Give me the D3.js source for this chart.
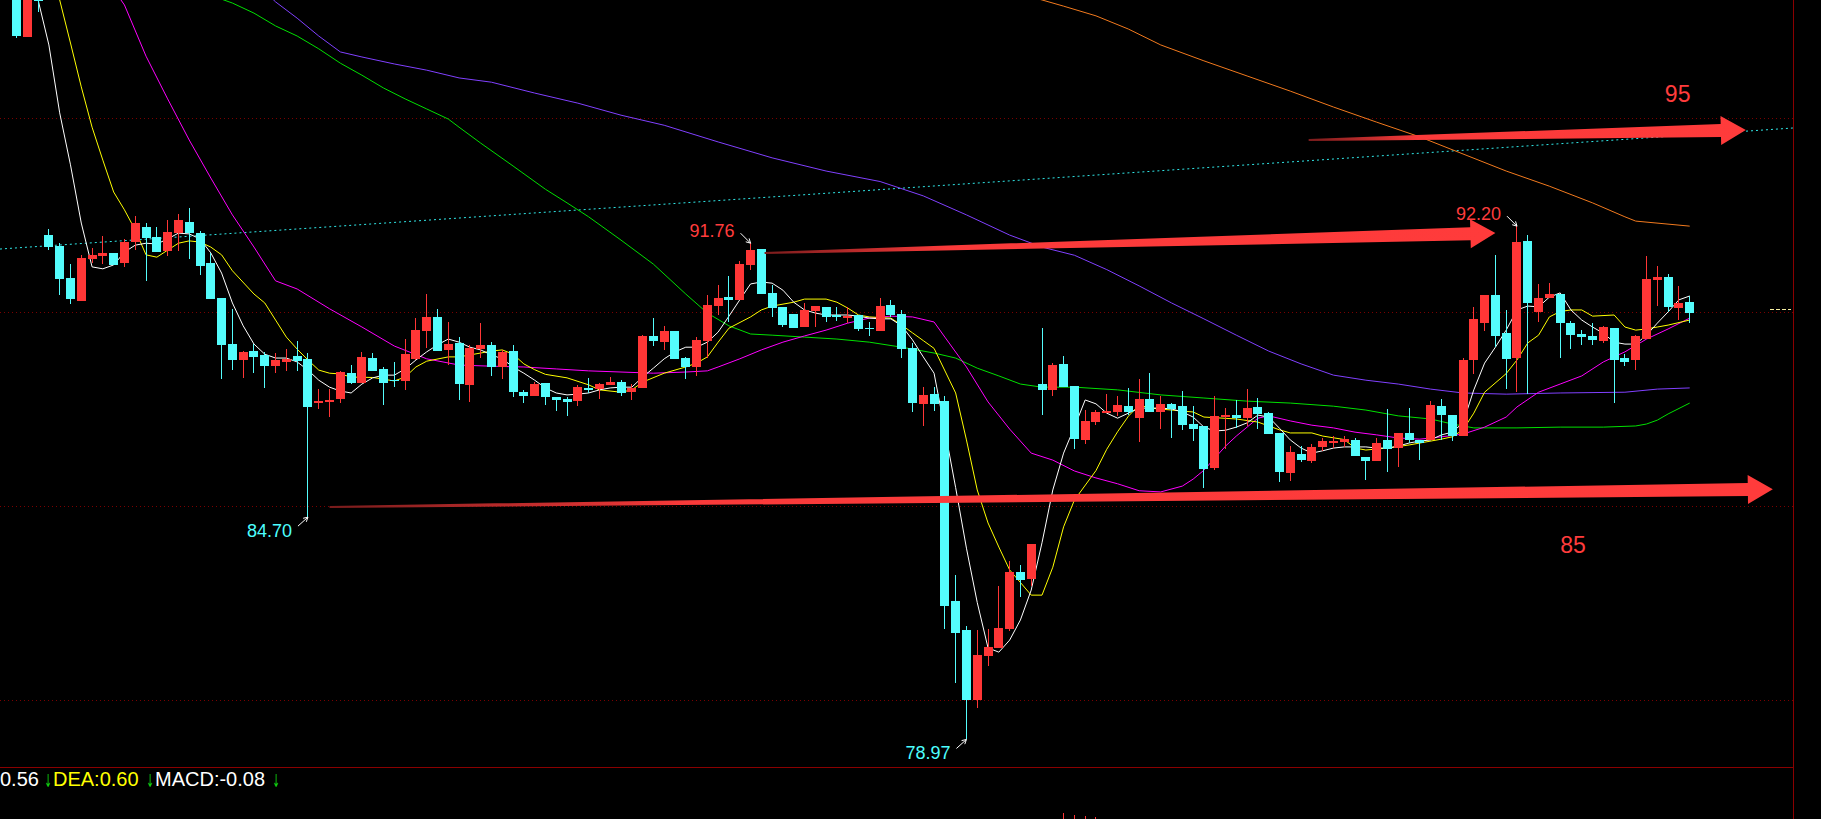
<!DOCTYPE html>
<meta charset="utf-8">
<head>
    <title>K-line</title>
    <script src="https://d3js.org/d3.v7.min.js"></script>
    <style>
        body { margin: 0; background: #000; overflow: hidden; }
        text { font-family: "Liberation Sans", Arial, sans-serif; }
    </style>
</head>
<body>
<div id="chart"></div>
<script>

// candles, [open, high, low, close], one per trading day
var candles = [
    [99.32,99.57,97.06,97.10],[97.08,98.93,97.08,98.80],[98.30,98.40,97.73,98.00],[91.97,92.13,91.58,91.67],
    [91.70,91.76,90.43,90.85],[90.86,91.22,90.19,90.33],[90.28,91.46,90.28,91.38],[91.36,91.63,91.24,91.46],
    [91.44,91.95,91.22,91.51],[91.51,91.51,91.20,91.20],[91.25,91.87,91.15,91.79],[91.79,92.46,91.58,92.28],
    [92.18,92.28,90.79,91.89],[91.92,92.18,91.53,91.53],[91.56,92.36,91.44,92.05],[92.02,92.51,91.56,92.36],
    [92.31,92.67,91.35,92.02],[92.02,92.07,90.94,91.17],[91.25,91.51,90.32,90.32],[90.35,90.35,88.26,89.14],
    [89.16,90.06,88.49,88.75],[88.75,88.98,88.29,88.96],[88.98,89.16,88.42,88.83],[88.88,88.96,88.03,88.60],
    [88.60,88.93,88.42,88.75],[88.70,89.03,88.47,88.78],[88.85,89.25,88.47,88.72],[88.78,88.93,84.70,87.55],
    [87.64,88.00,87.49,87.69],[87.67,88.00,87.28,87.72],[87.75,88.47,87.65,88.44],[88.41,88.62,88.13,88.16],
    [88.16,88.96,88.16,88.83],[88.80,88.93,88.47,88.47],[88.52,88.57,87.59,88.16],[88.24,88.71,88.06,88.21],
    [88.22,89.29,87.98,88.91],[88.78,89.84,88.75,89.52],[89.50,90.45,89.07,89.87],[89.87,90.07,88.99,88.99],
    [89.01,89.73,88.63,89.16],[89.18,89.35,87.72,88.14],[88.11,89.14,87.68,89.05],[89.03,89.70,88.79,89.14],
    [89.14,89.22,88.35,88.58],[88.58,89.01,88.26,88.96],[88.98,89.14,87.80,87.93],[87.92,87.98,87.63,87.83],
    [87.83,88.18,87.83,88.13],[88.16,88.16,87.59,87.80],[87.80,87.80,87.44,87.72],[87.74,87.79,87.31,87.68],
    [87.69,88.10,87.57,88.05],[88.04,88.28,87.91,87.98],[88.00,88.17,87.74,88.13],[88.11,88.30,88.11,88.19],
    [88.18,88.23,87.83,87.91],[87.93,88.13,87.72,88.04],[88.04,89.39,88.04,89.37],[89.37,89.82,89.12,89.25],
    [89.22,89.63,89.01,89.50],[89.50,89.50,88.78,88.78],[88.80,88.84,88.26,88.58],[88.58,89.33,88.35,89.27],
    [89.25,90.42,88.79,90.17],[90.14,90.68,89.91,90.35],[90.37,90.92,89.74,90.30],[90.30,91.30,90.30,91.22],
    [91.20,91.76,91.07,91.58],[91.61,91.61,90.45,90.45],[90.48,90.68,89.87,90.09],[90.12,90.12,89.60,89.65],
    [89.94,89.94,89.58,89.58],[89.61,90.21,89.61,90.04],[90.02,90.13,89.61,90.13],[90.12,90.12,89.73,89.87],
    [89.90,90.12,89.76,89.87],[89.83,90.12,89.71,89.88],[89.91,89.91,89.50,89.56],[89.58,89.74,89.38,89.54],
    [89.50,90.34,89.50,90.14],[90.16,90.30,89.87,89.91],[89.93,90.04,88.79,89.04],[89.06,89.18,87.42,87.63],
    [87.62,88.06,87.06,87.85],[87.87,88.05,87.44,87.62],[87.69,87.82,81.82,82.41],[82.54,83.21,80.43,81.72],
    [81.79,81.89,78.97,79.99],[79.99,81.79,79.79,81.15],[81.13,81.82,80.87,81.35],[81.33,82.93,81.33,81.84],
    [81.82,83.58,81.77,83.29],[83.29,83.47,82.65,83.08],[83.10,84.01,82.93,84.01],[88.13,89.57,87.33,87.98],
    [87.98,88.67,87.82,88.62],[88.65,88.85,88.05,88.05],[88.08,88.08,86.46,86.71],[86.69,87.46,86.58,87.18],
    [87.15,87.46,87.07,87.41],[87.38,87.87,87.38,87.44],[87.41,87.82,87.31,87.59],[87.56,88.03,87.33,87.41],
    [87.25,88.26,86.64,87.74],[87.74,88.41,87.41,87.41],[87.41,87.82,86.97,87.62],[87.62,87.64,86.74,87.49],
    [87.56,87.95,86.95,87.08],[87.10,87.56,86.66,86.97],[87.05,87.05,85.45,85.94],[85.97,87.82,85.91,87.31],
    [87.28,87.51,86.46,87.33],[87.33,87.72,87.00,87.25],[87.25,88.00,87.05,87.51],[87.54,87.77,86.97,87.36],
    [87.38,87.41,86.84,86.84],[86.87,86.87,85.61,85.86],[85.84,86.53,85.63,86.38],[86.33,86.53,86.12,86.17],
    [86.15,86.58,86.10,86.51],[86.51,86.74,86.40,86.66],[86.61,86.79,86.48,86.66],[86.64,86.79,86.51,86.71],
    [86.69,86.74,86.28,86.28],[86.26,86.26,85.67,86.15],[86.15,86.74,86.15,86.61],[86.69,87.49,85.87,86.46],
    [86.47,86.87,86.00,86.87],[86.87,87.51,86.60,86.69],[86.69,86.69,86.16,86.61],[86.69,87.69,86.69,87.59],
    [87.56,87.74,86.69,87.33],[87.33,87.33,86.67,86.79],[86.79,88.80,86.79,88.75],[88.75,90.12,88.40,89.81],
    [89.70,90.43,89.50,90.43],[90.43,91.46,89.09,89.37],[89.45,90.04,88.00,88.78],[88.80,92.20,87.93,91.79],
    [91.82,91.97,87.87,90.22],[89.99,90.71,89.73,90.35],[90.35,90.73,90.35,90.45],[90.45,90.45,88.81,89.70],
    [89.70,89.76,89.04,89.39],[89.42,89.52,89.14,89.34],[89.37,89.70,89.14,89.27],[89.24,89.63,89.19,89.60],
    [89.58,89.58,87.65,88.75],[88.80,88.91,88.60,88.70],[88.75,89.40,88.49,89.37],[89.30,91.43,89.30,90.84],
    [90.81,91.17,90.14,90.89],[90.89,90.97,89.99,90.12],[90.09,90.66,89.78,90.22],[90.24,90.40,89.71,89.96]
];

// moving averages, [day, value]
var ma5 = [[1,99.0],[2,98.03],[3,96.87],[4,95.12],[5,93.78],[6,92.28],[7,91.15],[8,91.10],[9,91.20],[10,91.53],
    [11,91.71],[12,91.76],[13,91.74],[14,91.87],[15,92.02],[16,92.00],[17,91.87],[18,91.51],[19,90.99],[20,90.22],
    [21,89.63],[22,89.16],[23,88.90],[24,88.80],[25,88.80],[26,88.70],[27,88.49],[28,88.23],[29,88.05],[30,87.95],
    [31,87.90],[32,88.13],[33,88.29],[34,88.36],[35,88.36],[36,88.52],[37,88.75],[38,88.96],[39,89.14],[40,89.29],
    [41,89.21],[42,89.08],[43,89.01],[44,88.88],[45,88.78],[46,88.57],[47,88.41],[48,88.23],[49,88.03],[50,87.90],
    [51,87.85],[52,87.87],[53,87.90],[54,87.98],[55,88.03],[56,88.05],[57,88.05],[58,88.31],[59,88.54],[60,88.78],
    [61,88.96],[62,89.08],[63,89.08],[64,89.21],[65,89.47],[66,89.88],[67,90.30],[68,90.71],[69,90.76],[70,90.73],
    [71,90.55],[72,90.24],[73,90.04],[74,89.96],[75,89.91],[76,89.91],[77,89.91],[78,89.88],[79,89.83],[80,89.81],
    [81,89.81],[82,89.63],[83,89.27],[84,88.83],[85,88.41],[86,86.95],[87,85.46],[88,83.90],[89,82.50],[90,81.33],
    [91,81.22],[92,81.53],[93,82.05],[94,82.82],[95,84.04],[96,85.40],[97,86.35],[98,87.02],[99,87.72],[100,87.62],
    [101,87.38],[102,87.25],[103,87.38],[104,87.51],[105,87.51],[106,87.51],[107,87.49],[108,87.41],[109,87.28],[110,87.02],
    [111,86.92],[112,86.94],[113,87.02],[114,87.13],[115,87.33],[116,87.28],[117,86.99],[118,86.69],[119,86.48],[120,86.35],
    [121,86.41],[122,86.48],[123,86.51],[124,86.51],[125,86.51],[126,86.48],[127,86.48],[128,86.53],[129,86.61],[130,86.66],
    [131,86.69],[132,86.82],[133,86.89],[134,87.13],[135,87.98],[136,88.67],[137,89.08],[138,89.52],[139,90.04],[140,90.14],
    [141,90.12],[142,90.37],[143,90.48],[144,90.04],[145,89.78],[146,89.60],[147,89.44],[148,89.21],[149,89.16],[150,89.16],
    [151,89.39],[152,89.70],[153,89.99],[154,90.30],[155,90.40]];
var ma10 = [[3,98.6],[4,98.03],[5,96.92],[6,95.79],[7,94.75],[8,93.90],[9,93.08],[10,92.62],[11,92.10],[12,91.46],
    [13,91.40],[14,91.58],[15,91.76],[16,91.82],[17,91.79],[18,91.66],[19,91.46],[20,91.05],[22,90.45],[23,90.22],
    [24,89.78],[25,89.34],[26,89.03],[27,88.75],[28,88.49],[29,88.41],[30,88.39],[31,88.31],[33,88.30],[35,88.21],
    [36,88.31],[37,88.57],[38,88.72],[40,88.83],[41,88.83],[43,88.93],[44,88.98],[45,89.01],[46,88.90],[47,88.65],
    [48,88.50],[49,88.38],[51,88.29],[53,88.11],[54,87.98],[56,87.92],[57,87.98],[58,88.18],[60,88.41],[62,88.57],
    [63,88.67],[64,88.83],[65,89.21],[66,89.57],[68,89.86],[69,90.04],[70,90.14],[72,90.24],[73,90.32],[75,90.32],
    [76,90.24],[77,90.09],[78,89.91],[79,89.86],[81,89.83],[82,89.65],[83,89.45],[84,89.25],[85,89.05],[87,87.90],
    [88,86.69],[89,85.40],[90,84.55],[91,83.93],[92,83.34],[94,82.69],[95,82.69],[96,83.41],[97,84.45],[98,85.14],
    [100,85.90],[101,86.45],[102,86.90],[103,87.30],[104,87.59],[105,87.51],[107,87.46],[109,87.41],[110,87.28],[113,87.23],
    [115,87.15],[117,86.95],[118,86.87],[120,86.87],[121,86.79],[123,86.70],[124,86.48],[125,86.43],[127,86.48],[129,86.56],
    [130,86.61],[132,86.71],[133,86.77],[134,86.95],[135,87.38],[136,87.92],[138,88.40],[139,88.75],[140,89.19],[141,89.39],
    [142,89.86],[143,90.00],[144,90.04],[145,90.04],[146,89.88],[148,89.91],[149,89.60],[150,89.52],[151,89.55],[152,89.60],
    [153,89.65],[155,89.78]];
var ma20 = [[9,98.3],[10,97.90],[12,96.58],[14,95.48],[16,94.42],[18,93.44],[20,92.49],[22,91.66],[24,90.79],[26,90.58],
    [29,90.07],[32,89.60],[35,89.11],[38,88.78],[41,88.62],[44,88.59],[47,88.57],[50,88.52],[53,88.47],[56,88.44],
    [59,88.41],[62,88.44],[64,88.47],[65,88.57],[67,88.78],[69,89.01],[71,89.21],[73,89.37],[75,89.52],[77,89.70],
    [79,89.83],[81,89.88],[83,89.86],[85,89.73],[86,89.34],[88,88.57],[90,87.67],[92,86.97],[94,86.35],[96,86.17],
    [98,85.89],[100,85.71],[102,85.56],[104,85.38],[106,85.35],[108,85.50],[109,85.68],[110,85.91],[111,86.22],[112,86.53],
    [113,86.79],[114,87.02],[115,87.25],[116,87.31],[118,87.18],[120,87.07],[122,87.00],[124,86.89],[126,86.82],[128,86.74],
    [130,86.71],[132,86.77],[134,86.84],[136,87.02],[138,87.28],[139,87.54],[141,87.92],[143,88.13],[145,88.34],[147,88.70],
    [149,88.96],[151,89.29],[153,89.55],[155,89.83]];
var ma60 = [[19,98.05],[20,97.95],[22,97.69],[24,97.36],[26,97.10],[28,96.77],[30,96.40],[32,96.09],[34,95.76],[36,95.48],
    [38,95.22],[40,94.96],[41,94.75],[43,94.34],[46,93.75],[49,93.15],[51,92.80],[53,92.44],[56,91.84],[59,91.22],
    [62,90.45],[64,89.96],[66,89.63],[68,89.42],[70,89.39],[73,89.34],[76,89.29],[79,89.21],[82,89.08],[85,88.93],
    [87,88.80],[89,88.54],[91,88.34],[93,88.13],[95,88.05],[98,88.05],[102,87.98],[106,87.85],[110,87.77],[114,87.69],
    [118,87.64],[122,87.56],[125,87.46],[128,87.31],[131,87.23],[133,87.10],[135,87.00],[139,87.00],[143,87.02],[147,87.02],
    [150,87.05],[151,87.10],[152,87.20],[153,87.36],[155,87.64]];
var ma120 = [[23,98.25],[24,97.98],[26,97.56],[28,97.10],[30,96.69],[32,96.56],[35,96.38],[38,96.22],[41,96.02],[44,95.91],
    [48,95.63],[52,95.37],[56,95.06],[60,94.80],[65,94.37],[70,93.96],[75,93.62],[80,93.35],[84,92.98],[88,92.49],
    [92,91.97],[95,91.66],[98,91.45],[101,91.08],[104,90.66],[107,90.22],[110,89.81],[113,89.39],[116,88.98],[119,88.65],
    [122,88.36],[125,88.23],[128,88.13],[131,88.00],[134,87.90],[138,87.87],[143,87.90],[149,87.92],[152,88.00],[155,88.03]];
var ma250 = [[94,98.1],[95,98.03],[97,97.87],[100,97.62],[103,97.28],[106,96.87],[110,96.46],[114,96.07],[118,95.68],[122,95.27],
    [126,94.88],[130,94.50],[134,94.06],[138,93.62],[142,93.23],[146,92.80],[149,92.44],[150,92.33],[155,92.20]];

var gridLevels = [80, 85, 90, 95];
var trendLine = [[-1.53, 91.61], [164.6, 94.73]];
var lastPrice = 90.06;

// hand drawn arrows, [day, price] for tail and tip
var arrowTails = [[119.7, 94.42], [69.3, 91.51], [29.0, 84.96]];
var arrowTips = [[160.2, 94.68], [137.0, 92.02], [162.7, 85.42]];
var levelTexts = ["95", "85"];
var levelTextAt = [[152.7, 95.40], [143.0, 83.78]];

// extreme price labels
var extremeDays = [68, 139, 27, 88];
var extremeValues = [91.76, 92.20, 84.70, 78.97];
var extremeKinds = ["high", "high", "low", "low"];

// MACD histogram bars visible at the bottom edge
var macdDays = [97, 98, 99, 100];
var macdValues = [0.22, 0.20, 0.19, 0.18];
var macdTexts = ["0.56", "DEA:0.60", "MACD:-0.08"];

var width = 1821, height = 819, plotRight = 1793, plotBottom = 767;
var red = "#ff3636", cyan = "#54fcfc", darkRed = "#8a0000";

var svg = d3.select("#chart")
    .append("svg")
    .attr("width", width)
    .attr("height", height)
    .style("display", "block")
    .style("background", "#000");

var x = d3.scaleLinear().domain([0, 155]).range([16.5, 1689.7]);
var y = d3.scaleLinear().domain([80, 95]).range([699.5, 117.5]);
var yMacd = d3.scaleLinear().domain([0, 0.3]).range([835, 805]);

var defs = svg.append("defs");
defs.append("clipPath").attr("id", "plot")
    .append("rect").attr("x", 0).attr("y", 0).attr("width", plotRight).attr("height", plotBottom);

// frame lines
svg.append("line")
    .attr("x1", plotRight + 0.5).attr("x2", plotRight + 0.5)
    .attr("y1", 0).attr("y2", height)
    .attr("stroke", darkRed);
svg.append("line")
    .attr("x1", 0).attr("x2", plotRight)
    .attr("y1", plotBottom + 0.5).attr("y2", plotBottom + 0.5)
    .attr("stroke", darkRed);

var plot = svg.append("g").attr("clip-path", "url(#plot)");

// dotted price grid
plot.selectAll(".grid").data(gridLevels).join("line")
    .attr("x1", 0).attr("x2", plotRight)
    .attr("y1", function(d) { return Math.round(y(d)) + 0.5; })
    .attr("y2", function(d) { return Math.round(y(d)) + 0.5; })
    .attr("stroke", "#7a0000")
    .attr("stroke-dasharray", "1,3");

// cyan dotted trend line
plot.append("line")
    .attr("x1", x(trendLine[0][0])).attr("y1", y(trendLine[0][1]))
    .attr("x2", x(trendLine[1][0])).attr("y2", y(trendLine[1][1]))
    .attr("stroke", "#30e8e8")
    .attr("stroke-dasharray", "2,3");

// moving averages
var line = d3.line()
    .x(function(d) { return x(d[0]); })
    .y(function(d) { return y(d[1]); });
var maSeries = [
    [ma250, "#f27a1e"],
    [ma120, "#8040ff"],
    [ma60, "#00e000"],
    [ma20, "#ff00ff"],
    [ma10, "#ffff00"],
    [ma5, "#ffffff"]
];
maSeries.forEach(function(s) {
    plot.append("path")
        .datum(s[0])
        .attr("fill", "none")
        .attr("stroke", s[1])
        .attr("stroke-width", 1)
        .attr("d", line);
});

// candles
function candleColor(d) { return d[3] >= d[0] ? red : cyan; }
function bodyLeft(i) { return Math.round(x(i) - 4.5); }

plot.selectAll(".wick").data(candles).join("line")
    .attr("x1", function(d, i) { return bodyLeft(i) + 4.5; })
    .attr("x2", function(d, i) { return bodyLeft(i) + 4.5; })
    .attr("y1", function(d) { return Math.round(y(d[1])); })
    .attr("y2", function(d) { return Math.round(y(d[2])); })
    .attr("stroke", candleColor)
    .attr("stroke-width", 1);

plot.selectAll(".body").data(candles).join("rect")
    .attr("x", function(d, i) { return bodyLeft(i); })
    .attr("width", 9)
    .attr("y", function(d) { return Math.round(y(Math.max(d[0], d[3]))); })
    .attr("height", function(d) {
        return Math.max(1, Math.round(y(Math.min(d[0], d[3]))) - Math.round(y(Math.max(d[0], d[3]))));
    })
    .attr("fill", candleColor)
    .attr("shape-rendering", "crispEdges");

// red hand-drawn arrows
arrowTails.forEach(function(t, k) {
    var p = arrowTips[k];
    var x0 = x(t[0]), y0 = y(t[1]), x1 = x(p[0]), y1 = y(p[1]);
    var dx = x1 - x0, dy = y1 - y0, len = Math.hypot(dx, dy);
    var ux = dx / len, uy = dy / len, nx = -uy, ny = ux;
    var head = 25, hw = 14.5, sw = 6.5, tw = 1;
    var bx = x1 - ux * head, by = y1 - uy * head;
    var pts = [
        [x0 + nx * tw, y0 + ny * tw], [bx + nx * sw, by + ny * sw], [bx + nx * hw, by + ny * hw],
        [x1, y1],
        [bx - nx * hw, by - ny * hw], [bx - nx * sw, by - ny * sw], [x0 - nx * tw, y0 - ny * tw]
    ];
    var grad = defs.append("linearGradient")
        .attr("id", "arrowGrad" + k)
        .attr("gradientUnits", "userSpaceOnUse")
        .attr("x1", x0).attr("y1", y0).attr("x2", x1).attr("y2", y1);
    grad.append("stop").attr("offset", "0").attr("stop-color", "#7a1c1c");
    grad.append("stop").attr("offset", "0.25").attr("stop-color", "#fa3a3a");
    grad.append("stop").attr("offset", "1").attr("stop-color", "#ff3b3b");
    plot.append("path")
        .attr("d", d3.line()(pts) + "Z")
        .attr("fill", "url(#arrowGrad" + k + ")");
});

levelTexts.forEach(function(t, k) {
    svg.append("text")
        .attr("x", x(levelTextAt[k][0]))
        .attr("y", y(levelTextAt[k][1]))
        .text(t)
        .style("font-size", "23px")
        .attr("fill", "#ff3c3c");
});

// extreme labels with small white pointer
extremeDays.forEach(function(dayIdx, k) {
    var tx = x(dayIdx), ty = y(extremeValues[k]);
    var high = extremeKinds[k] === "high";
    var sx = tx - 10, sy = high ? ty - 10 : ty + 9;
    svg.append("line")
        .attr("x1", sx).attr("y1", sy).attr("x2", tx).attr("y2", ty)
        .attr("stroke", "#fff").attr("stroke-width", 1);
    var ang = Math.atan2(ty - sy, tx - sx);
    [0.5, -0.5].forEach(function(da) {
        svg.append("line")
            .attr("x1", tx).attr("y1", ty)
            .attr("x2", tx - 5 * Math.cos(ang + da)).attr("y2", ty - 5 * Math.sin(ang + da))
            .attr("stroke", "#fff").attr("stroke-width", 1);
    });
    svg.append("text")
        .attr("x", tx - 16)
        .attr("y", high ? ty - 6 : ty + 20)
        .attr("text-anchor", "end")
        .text(extremeValues[k].toFixed(2))
        .style("font-size", "18px")
        .attr("fill", high ? "#ff3c3c" : "#4dffff");
});

// last price marker on the right margin
svg.append("line")
    .attr("x1", plotRight - 23).attr("x2", plotRight - 2)
    .attr("y1", Math.round(y(lastPrice)) + 0.5).attr("y2", Math.round(y(lastPrice)) + 0.5)
    .attr("stroke", "#f5eea0")
    .attr("stroke-dasharray", "4,2");

// MACD area
svg.selectAll(".macd").data(macdDays).join("line")
    .attr("x1", function(d) { return bodyLeft(d) + 4.5; })
    .attr("x2", function(d) { return bodyLeft(d) + 4.5; })
    .attr("y1", function(d, i) { return yMacd(macdValues[i]); })
    .attr("y2", yMacd(0))
    .attr("stroke", red);

var macdX = [0, 53, 155], macdColors = ["#ffffff", "#ffff00", "#ffffff"], arrowX = [48, 150, 276];
macdTexts.forEach(function(t, k) {
    svg.append("text")
        .attr("x", macdX[k]).attr("y", 786)
        .text(t)
        .style("font-size", "20px")
        .attr("fill", macdColors[k]);
    svg.append("text")
        .attr("transform", "translate(" + arrowX[k] + ",787) scale(0.5,1)")
        .attr("text-anchor", "middle")
        .text("↓")
        .style("font-family", "'DejaVu Sans', sans-serif")
        .style("font-size", "18px")
        .attr("fill", "#10d010");
});

</script>
</body>
</html>
